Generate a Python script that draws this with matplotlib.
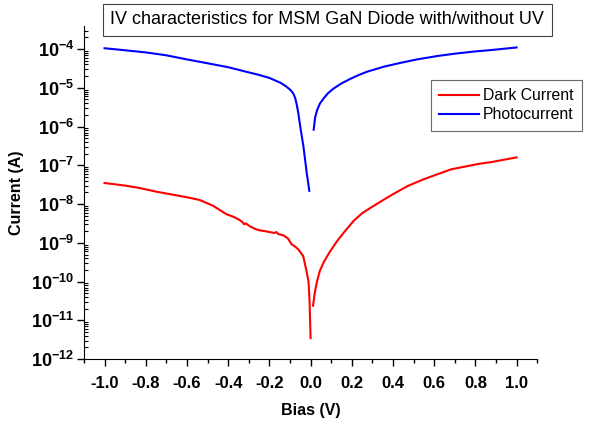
import matplotlib
matplotlib.use("Agg")
import matplotlib.pyplot as plt
from matplotlib.ticker import LogLocator, MultipleLocator, FuncFormatter
import numpy as np

plt.rcParams["font.family"] = "Liberation Sans"
plt.rcParams["mathtext.fontset"] = "custom"
plt.rcParams["mathtext.rm"] = "Liberation Sans:bold"
plt.rcParams["mathtext.bf"] = "Liberation Sans:bold"

# Dark current, reverse (negative bias) branch
dark_neg_bias = [-1.0, -0.9, -0.83, -0.75, -0.6, -0.539, -0.474, -0.409, -0.37, -0.345,
                 -0.33, -0.322, -0.315, -0.296, -0.27, -0.248, -0.22, -0.199, -0.175,
                 -0.165, -0.158, -0.13, -0.11, -0.093, -0.075, -0.061, -0.036, -0.02,
                 -0.01, -0.005, 0.0]
dark_neg = [3.5e-8, 3.0e-8, 2.6e-8, 2.1e-8, 1.5e-8, 1.28e-8, 9.1e-9, 5.5e-9, 4.6e-9, 3.9e-9,
            3.4e-9, 3.0e-9, 3.2e-9, 2.7e-9, 2.3e-9, 2.1e-9, 2.0e-9, 1.9e-9, 1.8e-9,
            1.9e-9, 1.7e-9, 1.55e-9, 1.3e-9, 9.3e-10, 8.0e-10, 6.9e-10, 4.6e-10, 1.9e-10,
            1.0e-10, 3.2e-11, 3.5e-12]

# Dark current, forward branch
dark_pos_bias = [0.012, 0.02, 0.031, 0.045, 0.063, 0.09, 0.128, 0.16, 0.209, 0.25, 0.30,
                 0.339, 0.37, 0.40, 0.47, 0.55, 0.62, 0.683, 0.75, 0.82, 0.873, 0.94, 1.0]
dark_pos = [2.4e-11, 5.0e-11, 1.0e-10, 1.9e-10, 3.1e-10, 5.5e-10, 1.1e-9, 1.8e-9, 3.7e-9,
            5.8e-9, 8.6e-9, 1.15e-8, 1.45e-8, 1.8e-8, 2.9e-8, 4.4e-8, 6.0e-8, 7.9e-8, 9.3e-8,
            1.1e-7, 1.2e-7, 1.4e-7, 1.6e-7]

# Photocurrent, reverse branch
photo_neg_bias = [-1.0, -0.9, -0.8, -0.7, -0.6, -0.5, -0.4, -0.3, -0.25, -0.2, -0.146,
                  -0.12, -0.1, -0.09, -0.082, -0.075, -0.068, -0.06, -0.05, -0.034,
                  -0.018, -0.006]
photo_neg = [1.05e-4, 9.3e-5, 8.2e-5, 6.9e-5, 5.4e-5, 4.3e-5, 3.4e-5, 2.5e-5, 2.15e-5,
             1.8e-5, 1.35e-5, 1.1e-5, 9.0e-6, 7.9e-6, 6.8e-6, 5.5e-6, 3.9e-6, 2.3e-6,
             1.0e-6, 2.9e-7, 6.0e-8, 2.2e-8]

# Photocurrent, forward branch
photo_pos_bias = [0.015, 0.022, 0.031, 0.045, 0.063, 0.085, 0.112, 0.15, 0.193, 0.23,
                  0.274, 0.355, 0.436, 0.516, 0.614, 0.7, 0.8, 0.873, 0.94, 1.0]
photo_pos = [8.3e-7, 1.7e-6, 2.6e-6, 3.9e-6, 5.3e-6, 7.3e-6, 9.6e-6, 1.3e-5, 1.7e-5,
             2.1e-5, 2.6e-5, 3.5e-5, 4.4e-5, 5.4e-5, 6.6e-5, 7.6e-5, 8.7e-5, 9.4e-5,
             1.02e-4, 1.1e-4]

fig = plt.figure(figsize=(5.91, 4.23), dpi=100)
ax = fig.add_axes([0.142, 0.151, 0.767, 0.788])

ax.plot(dark_neg_bias, dark_neg, color="#ff0000", lw=1.5, label="Dark Current")
ax.plot(dark_pos_bias, dark_pos, color="#ff0000", lw=1.5)
ax.plot(photo_neg_bias, photo_neg, color="#0000ff", lw=1.5, label="Photocurrent")
ax.plot(photo_pos_bias, photo_pos, color="#0000ff", lw=1.5)

ax.set_yscale("log")
ax.set_xlim(-1.1, 1.1)
ax.set_ylim(1e-12, 10 ** -3.4)

ax.spines["top"].set_visible(False)
ax.spines["right"].set_visible(False)

ax.xaxis.set_major_locator(MultipleLocator(0.2))
ax.xaxis.set_minor_locator(MultipleLocator(0.1))
ax.xaxis.set_major_formatter(FuncFormatter(lambda v, p: "%.1f" % v))
ax.yaxis.set_major_locator(LogLocator(base=10, numticks=20))
ax.yaxis.set_minor_locator(LogLocator(base=10, subs=np.arange(2, 10), numticks=20))
ax.yaxis.set_major_formatter(FuncFormatter(lambda v, p: r"$\mathbf{10^{%d}}$" % round(np.log10(v))))

ax.tick_params(axis="x", which="major", direction="out", length=5, width=1, labelsize=12, pad=7)
ax.tick_params(axis="x", which="minor", direction="out", length=3, width=1)
ax.tick_params(axis="y", which="major", direction="out", length=5, width=1, labelsize=13, pad=2)
ax.tick_params(axis="y", which="minor", direction="in", length=3, width=0.8)
for lab in ax.get_xticklabels():
    lab.set_fontweight("bold")

ax.set_xlabel("Bias (V)", fontsize=11.5, fontweight="bold", labelpad=9)
ax.set_ylabel("Current (A)", fontsize=11.5, fontweight="bold", labelpad=5)

leg = ax.legend(loc="upper left", bbox_to_anchor=(0.748, 0.862), fontsize=11.3,
                frameon=True, fancybox=False, edgecolor="#444444", handlelength=2.5,
                handletextpad=0.25, borderpad=0.55, labelspacing=0.25)
leg.get_frame().set_linewidth(0.8)

fig.text(0.554, 0.953, "IV characteristics for MSM GaN Diode with/without UV",
         ha="center", va="center", fontsize=13,
         bbox=dict(boxstyle="square,pad=0.4", fc="white", ec="#444444", lw=0.8))

fig.savefig("out.png", dpi=100)
